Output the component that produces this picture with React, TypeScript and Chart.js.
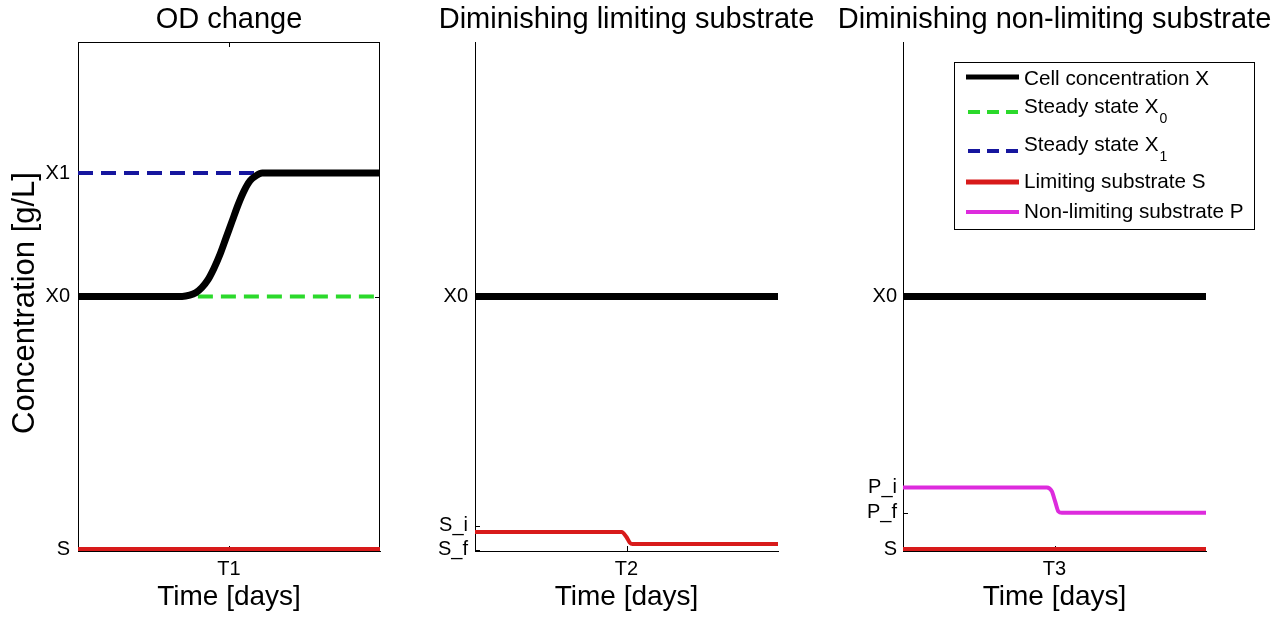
import React, { useEffect, useRef } from "react";
import { Chart, registerables } from "chart.js";

Chart.register(...registerables);

const FONT = "'Liberation Sans', Arial, Helvetica, sans-serif";
const PAGE_W = 1280;
const PAGE_H = 618;
const AREA_TOP = 42;
const AREA_BOTTOM = 551;

const BLACK = "#000000";
const GREEN = "#2bd92b";
const BLUE = "#16169e";
const RED = "#d81a1a";
const MAGENTA = "#dd2bdd";

// Shared axes: time runs 0..10 with the event tick in the middle, concentration 0..4
const timeMin = 0;
const timeMax = 10;
const eventTime = 5;
const concMin = 0;
const concMax = 4;

const panelTitles = [
  "OD change",
  "Diminishing limiting substrate",
  "Diminishing non-limiting substrate",
];
const eventLabels = ["T1", "T2", "T3"];

// Panel 1: cell density moves from X0 to X1
const odTime = [0, 3.45, 3.7, 3.9, 4.1, 4.3, 4.5, 4.7, 4.9, 5.1, 5.3, 5.5, 5.7, 5.9, 6.1, 6.3, 10];
const odCells = [2, 2, 2.01, 2.03, 2.07, 2.13, 2.22, 2.33, 2.46, 2.59, 2.72, 2.83, 2.91, 2.95, 2.97, 2.97, 2.97];
const steady0Time = [3.97, 10];
const steady0Level = [2, 2];
const steady1Time = [0, 6.1];
const steady1Level = [2.97, 2.97];
const odSubstrateTime = [0, 10];
const odSubstrate = [0.015, 0.015];
const odTickValues = [0.015, 2, 2.97];
const odTickLabels = ["S", "X0", "X1"];

// Panel 2: limiting substrate drops from S_i to S_f
const limCellTime = [0, 10];
const limCells = [2, 2];
const limSubstrateTime = [0, 4.84, 5.0, 5.11, 5.2, 10];
const limSubstrate = [0.15, 0.15, 0.11, 0.065, 0.055, 0.055];
const limTickValues = [0.01, 0.2, 2];
const limTickLabels = ["S_f", "S_i", "X0"];

// Panel 3: non-limiting substrate drops from P_i to P_f
const nonCellTime = [0, 10];
const nonCells = [2, 2];
const nonProductTime = [0, 4.75, 4.91, 5.02, 5.13, 5.24, 10];
const nonProduct = [0.5, 0.5, 0.47, 0.39, 0.31, 0.3, 0.3];
const nonSubstrateTime = [0, 10];
const nonSubstrate = [0.015, 0.015];
const nonTickValues = [0.015, 0.3, 0.5, 2];
const nonTickLabels = ["S", "P_f", "P_i", "X0"];

// Legend entries
const legendLabels = [
  "Cell concentration X",
  "Steady state X",
  "Steady state X",
  "Limiting substrate S",
  "Non-limiting substrate P",
];
const legendSubscripts = ["", "0", "1", "", ""];
const legendColors = [BLACK, GREEN, BLUE, RED, MAGENTA];
const legendWidths = [5, 4, 4, 5, 4];
const legendDashed = [false, true, true, false, false];

const DASH = [15, 8];

type Series = {
  xs: number[];
  ys: number[];
  color: string;
  width: number;
  dash?: number[];
  smooth?: boolean;
};

type PanelSpec = {
  canvasLeft: number;
  canvasWidth: number;
  areaLeft: number;
  areaRight: number;
  title: string;
  eventLabel: string;
  tickValues: number[];
  tickLabels: string[];
  tickPad: number;
  series: Series[];
  boxed: boolean;
  yTitle: boolean;
  legend: boolean;
};

const panels: PanelSpec[] = [
  {
    canvasLeft: 0,
    canvasWidth: 420,
    areaLeft: 78,
    areaRight: 380,
    title: panelTitles[0],
    eventLabel: eventLabels[0],
    tickValues: odTickValues,
    tickLabels: odTickLabels,
    tickPad: 8,
    boxed: true,
    yTitle: true,
    legend: false,
    series: [
      { xs: odTime, ys: odCells, color: BLACK, width: 7, smooth: true },
      { xs: steady0Time, ys: steady0Level, color: GREEN, width: 4, dash: DASH },
      { xs: steady1Time, ys: steady1Level, color: BLUE, width: 4, dash: DASH },
      { xs: odSubstrateTime, ys: odSubstrate, color: RED, width: 4 },
    ],
  },
  {
    canvasLeft: 420,
    canvasWidth: 420,
    areaLeft: 475,
    areaRight: 778,
    title: panelTitles[1],
    eventLabel: eventLabels[1],
    tickValues: limTickValues,
    tickLabels: limTickLabels,
    tickPad: 7,
    boxed: false,
    yTitle: false,
    legend: false,
    series: [
      { xs: limCellTime, ys: limCells, color: BLACK, width: 7 },
      { xs: limSubstrateTime, ys: limSubstrate, color: RED, width: 4, smooth: true },
    ],
  },
  {
    canvasLeft: 840,
    canvasWidth: 440,
    areaLeft: 903,
    areaRight: 1206,
    title: panelTitles[2],
    eventLabel: eventLabels[2],
    tickValues: nonTickValues,
    tickLabels: nonTickLabels,
    tickPad: 6,
    boxed: false,
    yTitle: false,
    legend: true,
    series: [
      { xs: nonCellTime, ys: nonCells, color: BLACK, width: 7 },
      { xs: nonProductTime, ys: nonProduct, color: MAGENTA, width: 4, smooth: true },
      { xs: nonSubstrateTime, ys: nonSubstrate, color: RED, width: 4 },
    ],
  },
];

const toPoints = (xs: number[], ys: number[]) => xs.map((x, i) => ({ x, y: ys[i] }));

// Legend box geometry (page coordinates)
const LEG_LEFT = 954;
const LEG_RIGHT = 1254;
const LEG_TOP = 62;
const LEG_BOTTOM = 229;
const LEG_SAMPLE_X0 = 966;
const LEG_SAMPLE_X1 = 1019;
const LEG_TEXT_X = 1024;
const legendSampleY = [77, 112, 151, 182, 212];
const legendTextY = [79, 107, 145, 182, 212];

function decorPlugin(spec: PanelSpec) {
  return {
    id: "panelDecor",
    beforeDatasetsDraw(chart: any) {
      const ctx: CanvasRenderingContext2D = chart.ctx;
      const { left, right, top, bottom } = chart.chartArea;
      const ys = chart.scales.y;
      const xs = chart.scales.x;
      ctx.save();
      ctx.strokeStyle = BLACK;
      ctx.lineWidth = 1;
      ctx.beginPath();
      // inward tick marks
      spec.tickValues.forEach((v) => {
        const py = Math.round(ys.getPixelForValue(v)) + 0.5;
        ctx.moveTo(left, py);
        ctx.lineTo(left + 5, py);
        if (spec.boxed) {
          ctx.moveTo(right - 5, py);
          ctx.lineTo(right, py);
        }
      });
      const px = Math.round(xs.getPixelForValue(eventTime)) + 0.5;
      ctx.moveTo(px, bottom);
      ctx.lineTo(px, bottom - 5);
      if (spec.boxed) {
        ctx.moveTo(px, top);
        ctx.lineTo(px, top + 5);
        ctx.moveTo(left, top + 0.5);
        ctx.lineTo(right, top + 0.5);
        ctx.moveTo(right - 0.5, top);
        ctx.lineTo(right - 0.5, bottom);
      }
      ctx.stroke();
      ctx.restore();
    },
    afterDraw(chart: any) {
      const ctx: CanvasRenderingContext2D = chart.ctx;
      const { left, right } = chart.chartArea;
      ctx.save();
      ctx.fillStyle = BLACK;
      // panel title
      ctx.font = `29px ${FONT}`;
      ctx.textAlign = "center";
      ctx.textBaseline = "middle";
      ctx.fillText(spec.title, (left + right) / 2, 20);

      ctx.translate(-spec.canvasLeft, 0);

      if (spec.yTitle) {
        ctx.save();
        ctx.translate(25, 303);
        ctx.rotate(-Math.PI / 2);
        ctx.font = `31px ${FONT}`;
        ctx.textAlign = "center";
        ctx.textBaseline = "middle";
        ctx.fillText("Concentration [g/L]", 0, 0);
        ctx.restore();
      }

      if (spec.legend) {
        ctx.fillStyle = "#ffffff";
        ctx.fillRect(LEG_LEFT, LEG_TOP, LEG_RIGHT - LEG_LEFT, LEG_BOTTOM - LEG_TOP);
        ctx.strokeStyle = BLACK;
        ctx.lineWidth = 1;
        ctx.strokeRect(LEG_LEFT + 0.5, LEG_TOP + 0.5, LEG_RIGHT - LEG_LEFT, LEG_BOTTOM - LEG_TOP);
        legendLabels.forEach((label, i) => {
          ctx.save();
          ctx.strokeStyle = legendColors[i];
          ctx.lineWidth = legendWidths[i];
          ctx.setLineDash(legendDashed[i] ? [12, 7] : []);
          ctx.lineDashOffset = legendDashed[i] ? -2 : 0;
          ctx.beginPath();
          ctx.moveTo(LEG_SAMPLE_X0, legendSampleY[i]);
          ctx.lineTo(LEG_SAMPLE_X1, legendSampleY[i]);
          ctx.stroke();
          ctx.restore();
          ctx.fillStyle = BLACK;
          ctx.font = `20.7px ${FONT}`;
          ctx.textAlign = "left";
          ctx.textBaseline = "middle";
          ctx.fillText(label, LEG_TEXT_X, legendTextY[i]);
          if (legendSubscripts[i]) {
            const w = ctx.measureText(label).width;
            ctx.font = `14px ${FONT}`;
            ctx.fillText(legendSubscripts[i], LEG_TEXT_X + w + 1, legendTextY[i] + 12);
          }
        });
      }
      ctx.restore();
    },
  };
}

function buildConfig(spec: PanelSpec): any {
  return {
    type: "line",
    data: {
      datasets: spec.series.map((s, i) => ({
        data: toPoints(s.xs, s.ys),
        borderColor: s.color,
        backgroundColor: s.color,
        borderWidth: s.width,
        borderDash: s.dash ?? [],
        cubicInterpolationMode: s.smooth ? "monotone" : "default",
        pointRadius: 0,
        pointHoverRadius: 0,
        fill: false,
        tension: 0,
        order: i,
      })),
    },
    options: {
      animation: false,
      responsive: false,
      devicePixelRatio: 1,
      events: [],
      layout: {
        padding: {
          left: 0,
          right: spec.canvasLeft + spec.canvasWidth - spec.areaRight,
          top: AREA_TOP,
          bottom: 0,
        },
      },
      plugins: {
        legend: { display: false },
        tooltip: { enabled: false },
        title: { display: false },
      },
      scales: {
        x: {
          type: "linear",
          position: "bottom",
          min: timeMin,
          max: timeMax,
          afterFit: (s: any) => {
            s.height = PAGE_H - AREA_BOTTOM;
          },
          afterBuildTicks: (s: any) => {
            s.ticks = [{ value: eventTime }];
          },
          ticks: {
            callback: () => spec.eventLabel,
            autoSkip: false,
            maxRotation: 0,
            padding: 6,
            color: BLACK,
            font: { family: FONT, size: 20, lineHeight: 1.2 },
          },
          grid: { display: false, drawTicks: false },
          border: { display: true, color: BLACK, width: 1 },
          title: {
            display: true,
            text: "Time [days]",
            color: BLACK,
            font: { family: FONT, size: 28, lineHeight: 1 },
            padding: { top: 0, bottom: 7 },
          },
        },
        y: {
          type: "linear",
          position: "left",
          min: concMin,
          max: concMax,
          afterFit: (s: any) => {
            s.width = spec.areaLeft - spec.canvasLeft;
          },
          afterBuildTicks: (s: any) => {
            s.ticks = spec.tickValues.map((v) => ({ value: v }));
          },
          ticks: {
            callback: (_v: any, idx: number) => spec.tickLabels[idx],
            autoSkip: false,
            padding: spec.tickPad,
            color: BLACK,
            font: { family: FONT, size: 20, lineHeight: 1.2 },
          },
          grid: { display: false, drawTicks: false },
          border: { display: true, color: BLACK, width: 1 },
        },
      },
    },
    plugins: [decorPlugin(spec)],
  };
}

function Panel({ spec }: { spec: PanelSpec }) {
  const ref = useRef<HTMLCanvasElement>(null);
  useEffect(() => {
    const canvas = ref.current;
    if (!canvas) return;
    const chart = new Chart(canvas, buildConfig(spec));
    return () => chart.destroy();
  }, [spec]);
  return (
    <canvas
      ref={ref}
      width={spec.canvasWidth}
      height={PAGE_H}
      style={{
        position: "absolute",
        left: spec.canvasLeft,
        top: 0,
        width: spec.canvasWidth,
        height: PAGE_H,
      }}
    />
  );
}

export default function App() {
  return (
    <div
      style={{
        position: "absolute",
        left: 0,
        top: 0,
        width: PAGE_W,
        height: PAGE_H,
        background: "#ffffff",
        overflow: "hidden",
      }}
    >
      {panels.map((p, i) => (
        <Panel key={i} spec={p} />
      ))}
    </div>
  );
}
